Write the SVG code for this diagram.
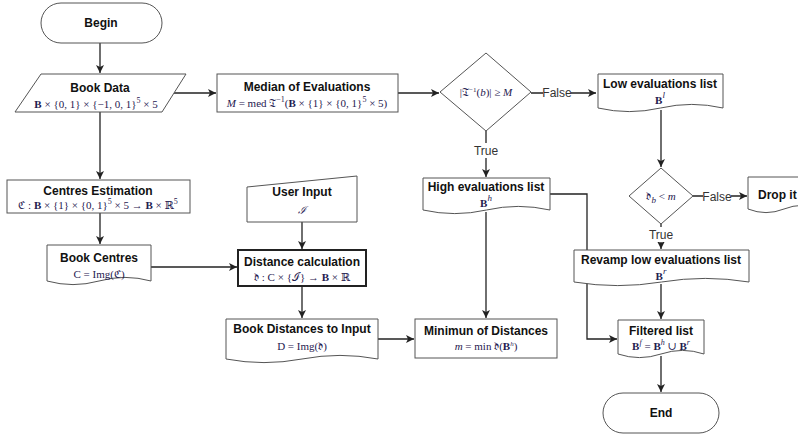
<svg xmlns="http://www.w3.org/2000/svg" width="798" height="434" viewBox="0 0 798 434">
  <style>
    .shape { fill: #ffffff; stroke: #555555; stroke-width: 1; }
    .strong { fill: #ffffff; stroke: #222222; stroke-width: 2; }
    .edge { fill: none; stroke: #222222; stroke-width: 1.3; }
    .title { font-family: "Liberation Sans", Arial, sans-serif; font-size: 12px; font-weight: bold; fill: #111111; text-anchor: middle; }
    .start { text-anchor: start; }
    .math { font-family: "Liberation Serif", "DejaVu Serif", serif; font-size: 11px; fill: #1f2050; text-anchor: middle; }
    .b { font-weight: bold; }
    .i { font-style: italic; }
    .lbl { font-family: "Liberation Sans", Arial, sans-serif; font-size: 12px; fill: #333333; text-anchor: middle; }
    .lblbg { fill: #ffffff; stroke: none; }
  </style>
  <defs>
    <marker id="arrow" markerUnits="userSpaceOnUse" markerWidth="9" markerHeight="8" refX="8" refY="4" orient="auto">
      <path d="M0,0 L8,4 L0,8 L2,4 Z" fill="#222222"/>
    </marker>
  </defs>

  <!-- connectors -->
  <g id="edges">
    <path class="edge" d="M100,43 V73" marker-end="url(#arrow)"/>
    <path class="edge" d="M174,93 H216" marker-end="url(#arrow)"/>
    <path class="edge" d="M100,112 V179" marker-end="url(#arrow)"/>
    <path class="edge" d="M100,213 V244" marker-end="url(#arrow)"/>
    <path class="edge" d="M151,267 H237" marker-end="url(#arrow)"/>
    <path class="edge" d="M302,222 V249" marker-end="url(#arrow)"/>
    <path class="edge" d="M302,286 V318" marker-end="url(#arrow)"/>
    <path class="edge" d="M378,339 H414" marker-end="url(#arrow)"/>
    <path class="edge" d="M398,93 H439" marker-end="url(#arrow)"/>
    <path class="edge" d="M531,93 H596" marker-end="url(#arrow)"/>
    <path class="edge" d="M486,131 V177" marker-end="url(#arrow)"/>
    <path class="edge" d="M486,212 V318" marker-end="url(#arrow)"/>
    <path class="edge" d="M550,194 H587 V339 H617" marker-end="url(#arrow)"/>
    <path class="edge" d="M661,110 V167" marker-end="url(#arrow)"/>
    <path class="edge" d="M693,196 H747" marker-end="url(#arrow)"/>
    <path class="edge" d="M661,224 V249" marker-end="url(#arrow)"/>
    <path class="edge" d="M661,284 V319" marker-end="url(#arrow)"/>
    <path class="edge" d="M661,356 V392" marker-end="url(#arrow)"/>
    <!-- edge labels -->
    <rect class="lblbg" x="543" y="85" width="28" height="15"/>
    <text class="lbl" x="557" y="97">False</text>
    <rect class="lblbg" x="473" y="143" width="26" height="15"/>
    <text class="lbl" x="486" y="155">True</text>
    <rect class="lblbg" x="703" y="189" width="28" height="15"/>
    <text class="lbl" x="717" y="201">False</text>
    <rect class="lblbg" x="648" y="227" width="26" height="15"/>
    <text class="lbl" x="661" y="239">True</text>
  </g>

  <g id="begin">
    <rect class="shape" x="41" y="3" width="121" height="40" rx="20" ry="20"/>
    <text class="title" x="101" y="27">Begin</text>
  </g>

  <g id="book-data">
    <polygon class="shape" points="41,74 186,74 162,112 15,112"/>
    <text class="title" x="100" y="92">Book Data</text>
    <text class="math" x="96" y="108"><tspan class="b">B</tspan> × {0, 1} × {−1, 0, 1}<tspan font-size="8" dy="-5">5</tspan><tspan dy="5"> × 5</tspan></text>
  </g>

  <g id="median">
    <rect class="shape" x="217" y="74" width="181" height="38"/>
    <text class="title" x="307" y="91">Median of Evaluations</text>
    <text class="math" x="307" y="107"><tspan class="i">M</tspan> = med 𝔗<tspan font-size="8" dy="-5">−1</tspan><tspan dy="5">(</tspan><tspan class="b">B</tspan> × {1} × {0, 1}<tspan font-size="8" dy="-5">5</tspan><tspan dy="5"> × 5)</tspan></text>
  </g>

  <g id="eval-check">
    <polygon class="shape" points="486,53 531,92 486,131 440,92"/>
    <text class="math" x="486" y="96" font-size="10">|𝔗<tspan font-size="7" dy="-4">−1</tspan><tspan dy="4">(</tspan><tspan class="i">b</tspan>)| ≥ <tspan class="i">M</tspan></text>
  </g>

  <g id="low-list">
    <path class="shape" d="M598,74 H723 V108 Q691.75,100.8 660.5,108 Q629.25,115.2 598,108 Z"/>
    <text class="title" x="660" y="88">Low evaluations list</text>
    <text class="math" x="660" y="104" font-size="13"><tspan class="b">B</tspan><tspan class="i" font-size="9" dy="-6">l</tspan></text>
  </g>

  <g id="distance-check">
    <polygon class="shape" points="661,168 693,196 661,224 629,196"/>
    <text class="math" x="661" y="200" font-size="13">𝔡<tspan class="i" font-size="9" dy="3">b</tspan><tspan dy="-3"> &lt; </tspan><tspan class="i">m</tspan></text>
  </g>

  <g id="drop-it">
    <path class="shape" d="M748,177 H820 V209 Q802,201.8 784,209 Q766,216.2 748,209 Z"/>
    <text class="title start" x="758" y="199">Drop it</text>
  </g>

  <g id="centres-estimation">
    <rect class="shape" x="7" y="180" width="183" height="33"/>
    <text class="title" x="98" y="195">Centres Estimation</text>
    <text class="math" x="98" y="209">ℭ : <tspan class="b">B</tspan> × {1} × {0, 1}<tspan font-size="8" dy="-5">5</tspan><tspan dy="5"> × 5 → </tspan><tspan class="b">B</tspan> × ℝ<tspan font-size="8" dy="-5">5</tspan></text>
  </g>

  <g id="book-centres">
    <path class="shape" d="M47,245 H151 V281 Q125,273.8 99,281 Q73,288.2 47,281 Z"/>
    <text class="title" x="99" y="262">Book Centres</text>
    <text class="math" x="99" y="278">C = Img(ℭ)</text>
  </g>

  <g id="user-input">
    <path class="shape" d="M247,187 L357,176 V222 H247 Z"/>
    <text class="title" x="302" y="196">User Input</text>
    <text class="math i" x="302" y="214" font-size="14">ℐ</text>
  </g>

  <g id="distance-calculation">
    <rect class="strong" x="238" y="250" width="128" height="36"/>
    <text class="title" x="302" y="266">Distance calculation</text>
    <text class="math" x="302" y="281" font-size="13">𝔡 : C × {ℐ} → <tspan class="b">B</tspan> × ℝ</text>
  </g>

  <g id="high-list">
    <path class="shape" d="M423,178 H550 V210 Q518.25,202.8 486.5,210 Q454.75,217.2 423,210 Z"/>
    <text class="title" x="486" y="191">High evaluations list</text>
    <text class="math" x="486" y="207" font-size="13"><tspan class="b">B</tspan><tspan class="i" font-size="9" dy="-6">h</tspan></text>
  </g>

  <g id="revamp">
    <path class="shape" d="M574,250 H749 V282 Q705.25,274.8 661.5,282 Q617.75,289.2 574,282 Z"/>
    <text class="title" x="661" y="264">Revamp low evaluations list</text>
    <text class="math" x="661" y="280" font-size="13"><tspan class="b">B</tspan><tspan class="i" font-size="9" dy="-6">r</tspan></text>
  </g>

  <g id="book-distances">
    <path class="shape" d="M226,319 H378 V359 Q340,351.8 302,359 Q264,366.2 226,359 Z"/>
    <text class="title" x="302" y="333">Book Distances to Input</text>
    <text class="math" x="302" y="350" font-size="12">D = Img(𝔡)</text>
  </g>

  <g id="minimum">
    <rect class="shape" x="415" y="319" width="142" height="39"/>
    <text class="title" x="486" y="335">Minimun of Distances</text>
    <text class="math" x="486" y="350" font-size="10"><tspan class="i">m</tspan> = min 𝔡(<tspan class="b">B</tspan><tspan class="i" font-size="7" dy="-4">h</tspan><tspan dy="4">)</tspan></text>
  </g>

  <g id="filtered">
    <path class="shape" d="M618,320 H704 V354 Q682.5,346.8 661,354 Q639.5,361.2 618,354 Z"/>
    <text class="title" x="661" y="335">Filtered list</text>
    <text class="math" x="661" y="350"><tspan class="b">B</tspan><tspan class="i" font-size="8" dy="-5">f</tspan><tspan dy="5"> = </tspan><tspan class="b">B</tspan><tspan class="i" font-size="8" dy="-5">h</tspan><tspan dy="5"> ∪ </tspan><tspan class="b">B</tspan><tspan class="i" font-size="8" dy="-5">r</tspan></text>
  </g>

  <g id="end">
    <rect class="shape" x="603" y="393" width="116" height="40" rx="20" ry="20"/>
    <text class="title" x="661" y="417">End</text>
  </g>
</svg>
